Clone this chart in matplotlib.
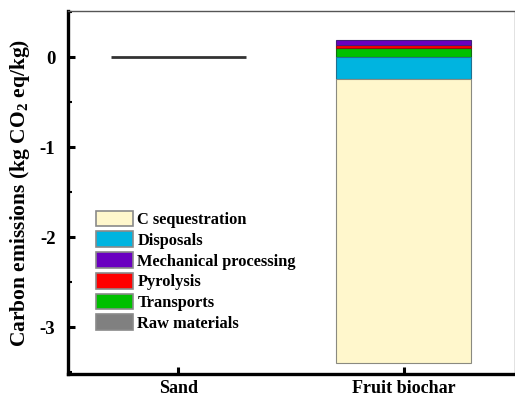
import matplotlib
matplotlib.use("Agg")
import matplotlib.pyplot as plt
import numpy as np
from matplotlib.patches import Patch

categories = ["Sand", "Fruit biochar"]
raw_materials = [0.0, 0.005]
transports = [0.0, 0.10]
pyrolysis = [0.0, 0.025]
mechanical = [0.0, 0.055]
disposals = [0.0, -0.24]
c_sequestration = [0.0, -3.16]

plt.rcParams['font.family'] = ['Liberation Serif', 'DejaVu Serif']
plt.rcParams['font.weight'] = 'bold'
plt.rcParams['mathtext.fontset'] = 'custom'
plt.rcParams['mathtext.bf'] = 'Liberation Serif:bold'
plt.rcParams['mathtext.rm'] = 'Liberation Serif:bold'

fig = plt.figure(figsize=(5.15, 3.97), dpi=100)
ax = fig.add_axes([0.132, 0.058, 0.866, 0.914])

x = np.arange(len(categories))
w = 0.6

# Sand: zero-height bar drawn as a line
ax.bar(x[0], 0, width=w, bottom=0, color='none', edgecolor='#333333', linewidth=2, zorder=3)

i = 1
pos_series = [("Raw materials", raw_materials, '#808080', '#555555'),
              ("Transports", transports, '#00C000', '#107010'),
              ("Pyrolysis", pyrolysis, '#FF0000', '#901010'),
              ("Mechanical processing", mechanical, '#6A00C0', '#40207A')]
neg_series = [("Disposals", disposals, '#00B4E0', '#207090'),
              ("C sequestration", c_sequestration, '#FFF7CC', '#8A8A80')]
handles = {}
b = 0
for name, vals, c, ec in pos_series:
    ax.bar(x[i], vals[i], width=w, bottom=b, color=c, edgecolor=ec, linewidth=0.8, zorder=2)
    handles[name] = (c, ec)
    b += vals[i]
b = 0
for name, vals, c, ec in neg_series:
    ax.bar(x[i], vals[i], width=w, bottom=b, color=c, edgecolor=ec, linewidth=0.8, zorder=2)
    handles[name] = (c, ec)
    b += vals[i]

order = ["C sequestration", "Disposals", "Mechanical processing", "Pyrolysis", "Transports", "Raw materials"]
lh = [Patch(facecolor=handles[n][0], edgecolor='#8a8a8a', linewidth=1.2) for n in order]
ax.legend(lh, order, loc='upper left', bbox_to_anchor=(0.062, 0.45), frameon=False,
          prop={'family': 'Liberation Serif', 'weight': 'bold', 'size': 11.8},
          handlelength=2.25, handleheight=1.1, labelspacing=0.2, handletextpad=0.3,
          borderpad=0, borderaxespad=0)

ax.set_xlim(-0.49, 1.49)
ax.set_ylim(-3.52, 0.51)
ax.set_xticks(x)
ax.set_xticklabels(categories, fontsize=13, fontweight='bold')
ax.set_yticks([0, -1, -2, -3])
ax.set_yticklabels(['0', '-1', '-2', '-3'], fontsize=13.5, fontweight='bold')
ax.set_yticks([0.5, -0.5, -1.5, -2.5, -3.5], minor=True)
ax.tick_params(axis='both', which='major', direction='in', length=5, width=2.2)
ax.tick_params(axis='y', which='major', pad=9)
ax.tick_params(axis='x', which='major', pad=4)
ax.tick_params(axis='y', which='minor', direction='in', length=3, width=1.5)
ax.set_ylabel('Carbon emissions (kg CO$_\\mathbf{2}$ eq/kg)', fontsize=15.5, fontweight='bold', labelpad=6)

ax.spines['left'].set_linewidth(2.4)
ax.spines['bottom'].set_linewidth(2.4)
ax.spines['top'].set_linewidth(1.0)
ax.spines['top'].set_color('#555555')
ax.spines['right'].set_linewidth(0.6)
ax.spines['right'].set_color('#dddddd')

fig.savefig('out.png', dpi=100)
